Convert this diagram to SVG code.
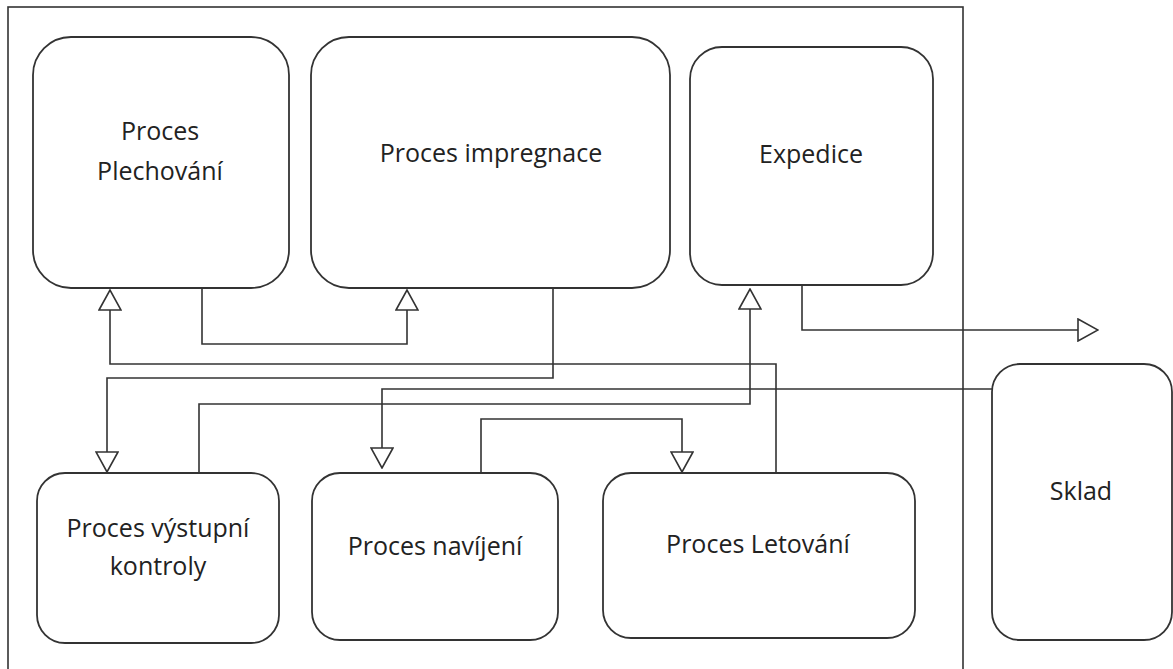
<svg xmlns="http://www.w3.org/2000/svg" width="1173" height="669" viewBox="0 0 1173 669">
  <style>
    .frame { fill: none; stroke: #333; stroke-width: 1.6; }
    .box { fill: #fff; stroke: #333; stroke-width: 1.8; }
    .wire { fill: none; stroke: #333; stroke-width: 1.6; }
    .label { font-family: "Open Sans", "Liberation Sans", sans-serif; font-size: 25px; fill: #222; text-anchor: middle; }
  </style>
  <defs>
    <marker id="open-tri" viewBox="0 0 22 24" refX="21" refY="12" markerWidth="22" markerHeight="24" markerUnits="userSpaceOnUse" orient="auto">
      <path d="M1,1 L21,12 L1,23 Z" fill="#fff" stroke="#333" stroke-width="1.6"/>
    </marker>
  </defs>
  <rect width="1173" height="669" fill="#fff"/>

  <!-- plant boundary -->
  <rect class="frame" x="8" y="7" width="955" height="680"/>

  <!-- connectors -->
  <g id="connectors">
    <path class="wire" d="M202,288 V344 H407 V290" marker-end="url(#open-tri)"/>
    <path class="wire" d="M776,473 V364 H110 V290" marker-end="url(#open-tri)"/>
    <path class="wire" d="M553,288 V378 H107 V472" marker-end="url(#open-tri)"/>
    <path class="wire" d="M992,389 H382 V468" marker-end="url(#open-tri)"/>
    <path class="wire" d="M199,473 V404 H750 V289" marker-end="url(#open-tri)"/>
    <path class="wire" d="M481,473 V419 H682 V472" marker-end="url(#open-tri)"/>
    <path class="wire" d="M802,285 V330 H1098" marker-end="url(#open-tri)"/>
  </g>

  <g id="plechovani">
    <rect class="box" x="33" y="37" width="256" height="251" rx="38" ry="38"/>
    <text class="label" x="160" y="140">Proces</text>
    <text class="label" x="160" y="180">Plechování</text>
  </g>
  <g id="impregnace">
    <rect class="box" x="311" y="37" width="359" height="251" rx="38" ry="38"/>
    <text class="label" x="491" y="162">Proces impregnace</text>
  </g>
  <g id="expedice">
    <rect class="box" x="690" y="47" width="243" height="238" rx="32" ry="32"/>
    <text class="label" x="811" y="163">Expedice</text>
  </g>
  <g id="vystupni-kontrola">
    <rect class="box" x="37" y="473" width="242" height="170" rx="28" ry="28"/>
    <text class="label" x="158" y="537">Proces výstupní</text>
    <text class="label" x="158" y="575">kontroly</text>
  </g>
  <g id="navijeni">
    <rect class="box" x="312" y="473" width="246" height="167" rx="28" ry="28"/>
    <text class="label" x="435" y="555">Proces navíjení</text>
  </g>
  <g id="letovani">
    <rect class="box" x="603" y="473" width="312" height="165" rx="28" ry="28"/>
    <text class="label" x="758" y="553">Proces Letování</text>
  </g>
  <g id="sklad">
    <rect class="box" x="992" y="364" width="180" height="276" rx="28" ry="28"/>
    <text class="label" x="1081" y="500">Sklad</text>
  </g>
</svg>
